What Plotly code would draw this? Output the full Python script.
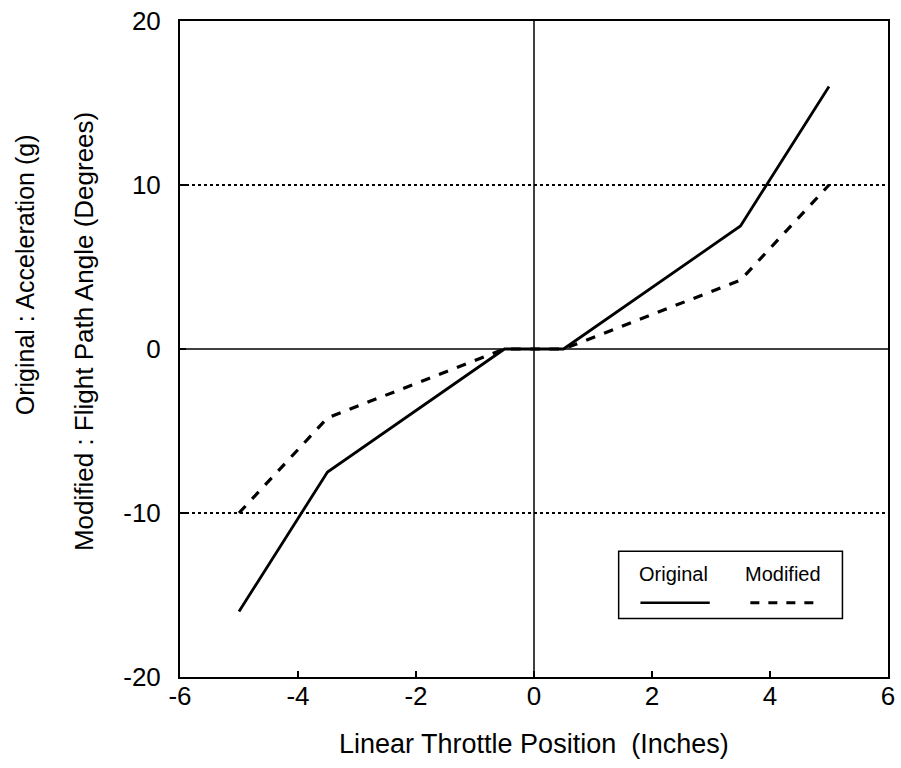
import plotly.graph_objects as go

# Data
x_orig = [-5, -3.5, -0.5, 0.5, 3.5, 5]
y_orig = [-16, -7.5, 0, 0, 7.5, 16]
x_mod = [-5, -3.5, -0.5, 0.5, 3.5, 5]
y_mod = [-10, -4.2, 0, 0, 4.2, 10]
limit_levels = [10, -10]
x_ticks = [-6, -4, -2, 0, 2, 4, 6]
x_ticklabels = ["-6", "-4", "-2", "0", "2", "4", "6"]
y_ticks = [-20, -10, 0, 10, 20]
y_ticklabels = ["-20", "-10", "0", "10", "20"]

FONT = "Liberation Sans, Arial, Helvetica, sans-serif"

fig = go.Figure()

# dotted limit lines
for lv in limit_levels:
    fig.add_trace(go.Scatter(x=[-6, 6], y=[lv, lv], mode="lines",
                             line=dict(color="black", width=2, dash="dot"),
                             showlegend=False, hoverinfo="skip"))

fig.add_trace(go.Scatter(x=x_mod, y=y_mod, mode="lines", name="Modified",
                         line=dict(color="black", width=3.2, dash="dash"),
                         showlegend=False))
fig.add_trace(go.Scatter(x=x_orig, y=y_orig, mode="lines", name="Original",
                         line=dict(color="black", width=2.8),
                         showlegend=False))

# zero lines (cross)
fig.add_shape(type="line", xref="x", yref="paper", x0=0, x1=0, y0=0, y1=1,
              line=dict(color="black", width=1.5), layer="below")
fig.add_shape(type="line", xref="paper", yref="y", x0=0, x1=1, y0=0, y1=0,
              line=dict(color="black", width=1.5), layer="below")

# custom legend box (paper coords; plot area is 715 x 662 px)
W, H = 715.0, 662.0
L, T = 180.0, 15.0
def px(xp):
    return (xp - L) / W
def py(yp):
    return 1 - (yp - T) / H

fig.add_shape(type="rect", xref="paper", yref="paper",
              x0=px(623), x1=px(849), y0=py(618), y1=py(550),
              line=dict(color="black", width=1.5), fillcolor="white")
fig.add_shape(type="line", xref="paper", yref="paper",
              x0=px(645), x1=px(715), y0=py(602), y1=py(602),
              line=dict(color="black", width=2.5))
fig.add_shape(type="line", xref="paper", yref="paper",
              x0=px(756), x1=px(821), y0=py(602), y1=py(602),
              line=dict(color="black", width=3, dash="dash"))
fig.add_annotation(xref="paper", yref="paper", x=px(678), y=py(573),
                   text="Original", showarrow=False, xanchor="center", yanchor="middle",
                   font=dict(family=FONT, size=20, color="black"))
fig.add_annotation(xref="paper", yref="paper", x=px(789), y=py(573),
                   text="Modified", showarrow=False, xanchor="center", yanchor="middle",
                   font=dict(family=FONT, size=20, color="black"))

# y title as two rotated lines
fig.add_annotation(xref="paper", yref="paper", x=px(23), y=py(271),
                   text="Original : Acceleration (g)", textangle=-90,
                   showarrow=False, xanchor="center", yanchor="middle",
                   font=dict(family=FONT, size=25, color="black"))
fig.add_annotation(xref="paper", yref="paper", x=px(83), y=py(328),
                   text="Modified : Flight Path Angle (Degrees)", textangle=-90,
                   showarrow=False, xanchor="center", yanchor="middle",
                   font=dict(family=FONT, size=26, color="black"))

# x title
fig.add_annotation(xref="paper", yref="paper", x=0.5, y=py(745),
                   text="Linear Throttle Position  (Inches)",
                   showarrow=False, xanchor="center", yanchor="middle",
                   font=dict(family=FONT, size=27, color="black"))

fig.update_layout(
    width=901, height=768,
    margin=dict(l=180, r=6, t=15, b=91),
    paper_bgcolor="white", plot_bgcolor="white",
    font=dict(family=FONT, color="black"),
    xaxis=dict(range=[-6, 6], tickvals=x_ticks, ticktext=x_ticklabels,
               ticks="inside", ticklen=6, ticklabelstandoff=-5,
               tickwidth=1.5, tickcolor="black", showgrid=False, zeroline=False,
               showline=True, linecolor="black", linewidth=2, mirror=True,
               tickfont=dict(size=26, family=FONT)),
    yaxis=dict(range=[-20, 20], tickvals=y_ticks, ticktext=y_ticklabels,
               ticks="inside", ticklen=6, ticklabelstandoff=12,
               tickwidth=1.5, tickcolor="black", showgrid=False, zeroline=False,
               showline=True, linecolor="black", linewidth=2, mirror=True,
               tickfont=dict(size=26, family=FONT)),
)

fig.write_html("out.html")
